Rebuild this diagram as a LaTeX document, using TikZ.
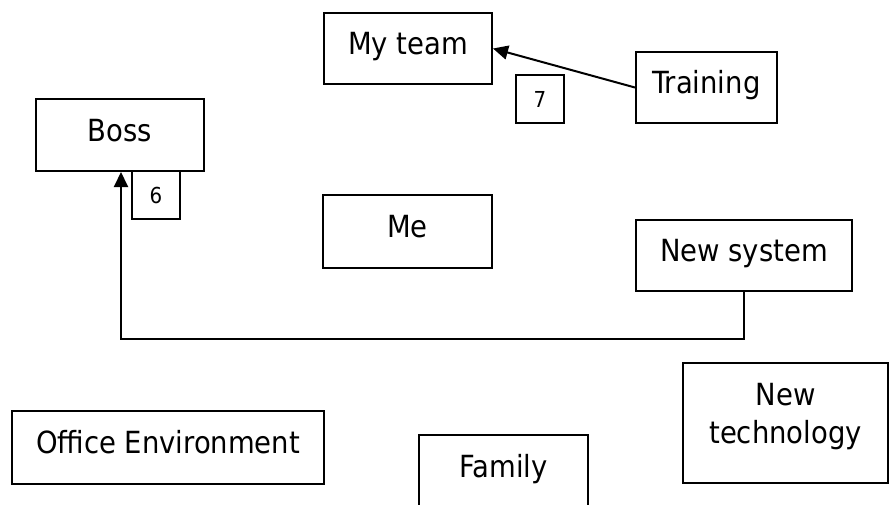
\documentclass[tikz,border=0pt]{standalone}
\usepackage{fontspec}
\setmainfont{DejaVu Sans Condensed}
\usetikzlibrary{arrows.meta}
\begin{document}
\begin{tikzpicture}[x=1pt,y=-1pt,
  box/.style={draw=black, line width=2pt, rectangle, inner sep=0pt,
    font=\fontsize{30.5}{38}\selectfont, text height=22pt, text depth=10pt},
  numbox/.style={draw=black, line width=2pt, rectangle, inner sep=0pt,
    minimum width=48pt, minimum height=48pt,
    font=\fontsize{22}{26}\selectfont, text height=16pt, text depth=0pt},
  arr/.style={line width=2pt, -{Triangle[length=15pt,width=14pt]}}]
\clip (0,0) rectangle (890,504);
\fill[white] (0,0) rectangle (890,504);
\node[box, minimum width=168pt, minimum height=71pt] (myteam) at (408,48.5) {My team};
\node[box, minimum width=141pt, minimum height=71pt] (training) at (706.5,87.5) {Training};
\node[box, minimum width=168pt, minimum height=72pt] (boss) at (120,135) {Boss};
\node[box, minimum width=169pt, minimum height=73pt] (me) at (407.5,231.5) {Me};
\node[box, minimum width=216pt, minimum height=71pt] (newsys) at (744,255.5) {New system};
\node[box, minimum width=312pt, minimum height=73pt] (office) at (168,447.5) {Office Environment};
\node[box, minimum width=169pt, minimum height=72pt] (family) at (503.5,471) {Family};
\node[box, minimum width=205pt, minimum height=120pt, align=center,
  text height=50pt, text depth=10pt] (newtech) at (785.5,423) {New\\technology};
\node[numbox] (n7) at (540,99) {7};
\node[numbox] (n6) at (156,195) {6};
\coordinate (bend) at (121,339);
\draw[arr] (training.west) -- (myteam.east);
\draw[arr] (newsys.south) |- (bend) -- (bend |- boss.south);
\end{tikzpicture}
\end{document}
